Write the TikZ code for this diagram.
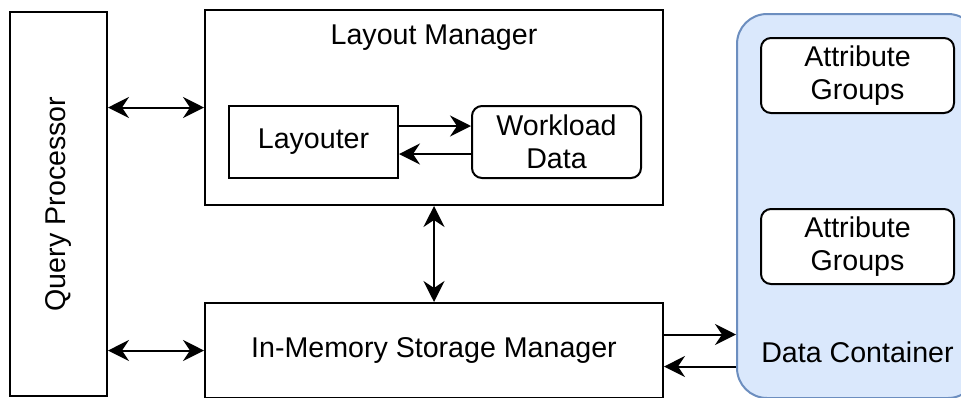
\documentclass[tikz,border=0pt]{standalone}
\usepackage{fontspec}
\setmainfont{Liberation Sans}
\usepackage{xcolor}
\usepackage{graphicx}
\usetikzlibrary{positioning,arrows.meta}
\definecolor{dcfill}{HTML}{DAE8FC}
\definecolor{dcline}{HTML}{6C8EBF}

\begin{document}
\begin{tikzpicture}[
    font=\fontsize{14.3pt}{16.5pt}\selectfont,
    node distance=36pt,
    >={Stealth[length=10.5pt,width=10.5pt,inset=3.5pt]},
    line width=1pt,
    block/.style={draw, rectangle, align=center, inner sep=0pt},
    softblock/.style={block, rounded corners=5pt, fill=white},
    container/.style={draw=dcline, fill=dcfill, rounded corners=15pt, inner sep=0pt}
]

\useasboundingbox (0,0) rectangle (480.5pt,-198.5pt);

% Query Processor
\node[block, minimum width=48.5pt, minimum height=192pt, anchor=north west] (qp) at (4.5pt,-5.5pt) {\rotatebox{90}{Query Processor}};

% Layout Manager
\node[block, minimum width=229pt, minimum height=97.5pt, right=48pt of qp.north east, anchor=north west, yshift=1pt] (lm) {};
\node[anchor=base] (lmtitle) at ([yshift=-17.5pt]lm.north) {Layout Manager};

% Layouter und Workload Data
\node[block, minimum width=84.5pt, minimum height=36pt, below right=48pt and 12pt of lm.north west] (layouter) {Layouter};
\node[softblock, minimum width=84.5pt, minimum height=36pt, right=of layouter] (wd) {Workload\\Data};

% In-Memory Storage Manager
\node[block, minimum width=229pt, minimum height=47.5pt, below=48pt of lm] (imsm) {In-Memory Storage Manager};

% Data Container
\node[container, minimum width=120.5pt, minimum height=192pt, right=of imsm.south east, anchor=south west] (dc) {};
\node[anchor=base] (dctitle) at ([yshift=18.3pt]dc.south) {Data Container};
\node[softblock, minimum width=96.5pt, minimum height=37.5pt, below=12pt of dc.north] (ag1) {Attribute\\Groups};
\node[softblock, minimum width=96.5pt, minimum height=37.5pt, below=47pt of ag1] (ag2) {Attribute\\Groups};

% Pfeile
\draw[<->] (qp.east |- lm.west) -- (lm.west);
\draw[<->] (qp.east |- imsm.west) -- (imsm.west);
\draw[<->] (lm.south) -- (imsm.north);
\draw[->] ([yshift=8pt]layouter.east) -- ([yshift=8pt]layouter.east -| wd.west);
\draw[->] ([yshift=-6pt]wd.west) -- ([yshift=-6pt]wd.west -| layouter.east);
\draw[->] ([yshift=8pt]imsm.east) -- ([yshift=8pt]imsm.east -| dc.west);
\draw[->] ([yshift=-8pt]imsm.east -| dc.west) -- ([yshift=-8pt]imsm.east);

\end{tikzpicture}
\end{document}
